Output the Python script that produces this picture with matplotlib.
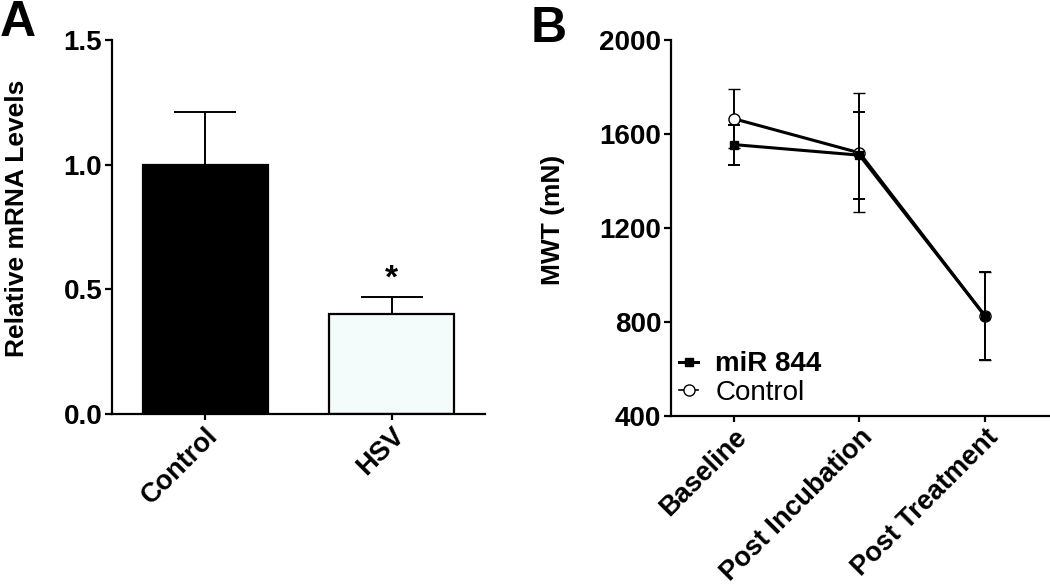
#!/usr/bin/env python3
"""
Two panel figure: (A) relative mRNA levels, (B) MWT time course.
"""

import matplotlib
matplotlib.use('Agg')
from matplotlib import pyplot as plot
from matplotlib.lines import Line2D

# ---- data (panel A)
groups = ['Control', 'HSV']
mrna_mean = [1.0, 0.40]
mrna_err = [0.21, 0.07]

# ---- data (panel B)
timepoints = ['Baseline', 'Post Incubation', 'Post Treatment']
mir_mean = [1555, 1510, 826]
mir_err = [85, 185, 187]
ctrl_mean = [1665, 1520, 826]
ctrl_err = [125, 253, 187]

plot.rcParams['font.family'] = ['Liberation Sans', 'DejaVu Sans']
plot.rcParams['font.weight'] = 'bold'


def style_axes(ax):
    for side in ('top', 'right'):
        ax.spines[side].set_visible(False)
    for side in ('left', 'bottom'):
        ax.spines[side].set_linewidth(1.6)
    ax.tick_params(axis='y', direction='out', length=5, width=1.6,
                   labelsize=20, pad=2)
    ax.tick_params(axis='x', direction='out', length=4, width=1.6,
                   labelsize=19.5, pad=2)
    for lab in ax.get_yticklabels() + ax.get_xticklabels():
        lab.set_fontweight('bold')


fig = plot.figure(figsize=(10.5, 5.87), dpi=100)

# ---- panel A
ax1 = fig.add_axes([0.1067, 0.2947, 0.3552, 0.6371])
xa = list(range(len(groups)))
ax1.bar(xa, mrna_mean, width=0.67, color=['black', '#f4fbfb'],
        edgecolor='black', linewidth=1.6, zorder=2)
ax1.errorbar(xa, mrna_mean, yerr=[[0, 0], mrna_err], fmt='none',
             ecolor='black', elinewidth=1.4, capsize=22, capthick=1.4,
             zorder=1)
ax1.text(1, mrna_mean[1] + mrna_err[1] + 0.07, '*', ha='center',
         va='center', fontsize=24, fontweight='bold')
ax1.set_xlim(-0.5, 1.5)
ax1.set_ylim(0, 1.5)
ax1.set_yticks([0.0, 0.5, 1.0, 1.5])
ax1.set_yticklabels(['0.0', '0.5', '1.0', '1.5'])
ax1.set_xticks(xa)
ax1.set_xticklabels(groups, rotation=45, ha='right', rotation_mode='anchor')
style_axes(ax1)
ax1.set_ylabel('Relative mRNA Levels', fontsize=19, fontweight='bold')
ax1.yaxis.set_label_coords(-0.222, 0.524)

# ---- panel B
ax2 = fig.add_axes([0.639, 0.2913, 0.361, 0.6405])
xb = list(range(len(timepoints)))
ax2.errorbar(xb, ctrl_mean, yerr=ctrl_err, color='black', lw=2.2,
             marker='o', markersize=8, mfc='white', mec='black', mew=1.0,
             ecolor='black', elinewidth=1.4, capsize=4, capthick=1.4,
             zorder=2)
ax2.errorbar(xb, mir_mean, yerr=mir_err, color='black', lw=2.2,
             marker='s', markersize=5.5, mfc='black', mec='black',
             ecolor='black', elinewidth=1.4, capsize=4, capthick=1.4,
             zorder=3)
ax2.set_xlim(-0.502, 2.518)
ax2.set_ylim(400, 2000)
ax2.set_yticks([400, 800, 1200, 1600, 2000])
ax2.set_xticks(xb)
ax2.set_xticklabels(timepoints, rotation=45, ha='right',
                    rotation_mode='anchor')
style_axes(ax2)
ax2.set_ylabel('MWT (mN)', fontsize=19, fontweight='bold')
ax2.yaxis.set_label_coords(-0.279, 0.521)

handles = [
    Line2D([], [], color='black', lw=2.2, marker='s', markersize=5.5,
           mfc='black', mec='black'),
    Line2D([], [], color='black', lw=1.2, marker='o', markersize=8,
           mfc='white', mec='black', mew=1.0),
]
leg = ax2.legend(handles, ['miR 844', 'Control'], loc='lower left',
                 bbox_to_anchor=(-0.03, -0.024), frameon=False, fontsize=20,
                 handlelength=0.7, handletextpad=0.6, labelspacing=0.08,
                 borderpad=0.2)
leg.get_texts()[0].set_fontweight('bold')
leg.get_texts()[1].set_fontweight('normal')

# ---- panel letters
fig.text(0.0, 1.0, 'A', fontsize=36, fontweight='bold', va='top',
         ha='left')
fig.text(0.505, 0.99, 'B', fontsize=36, fontweight='bold', va='top',
         ha='left')

fig.savefig('out.png', dpi=100)
